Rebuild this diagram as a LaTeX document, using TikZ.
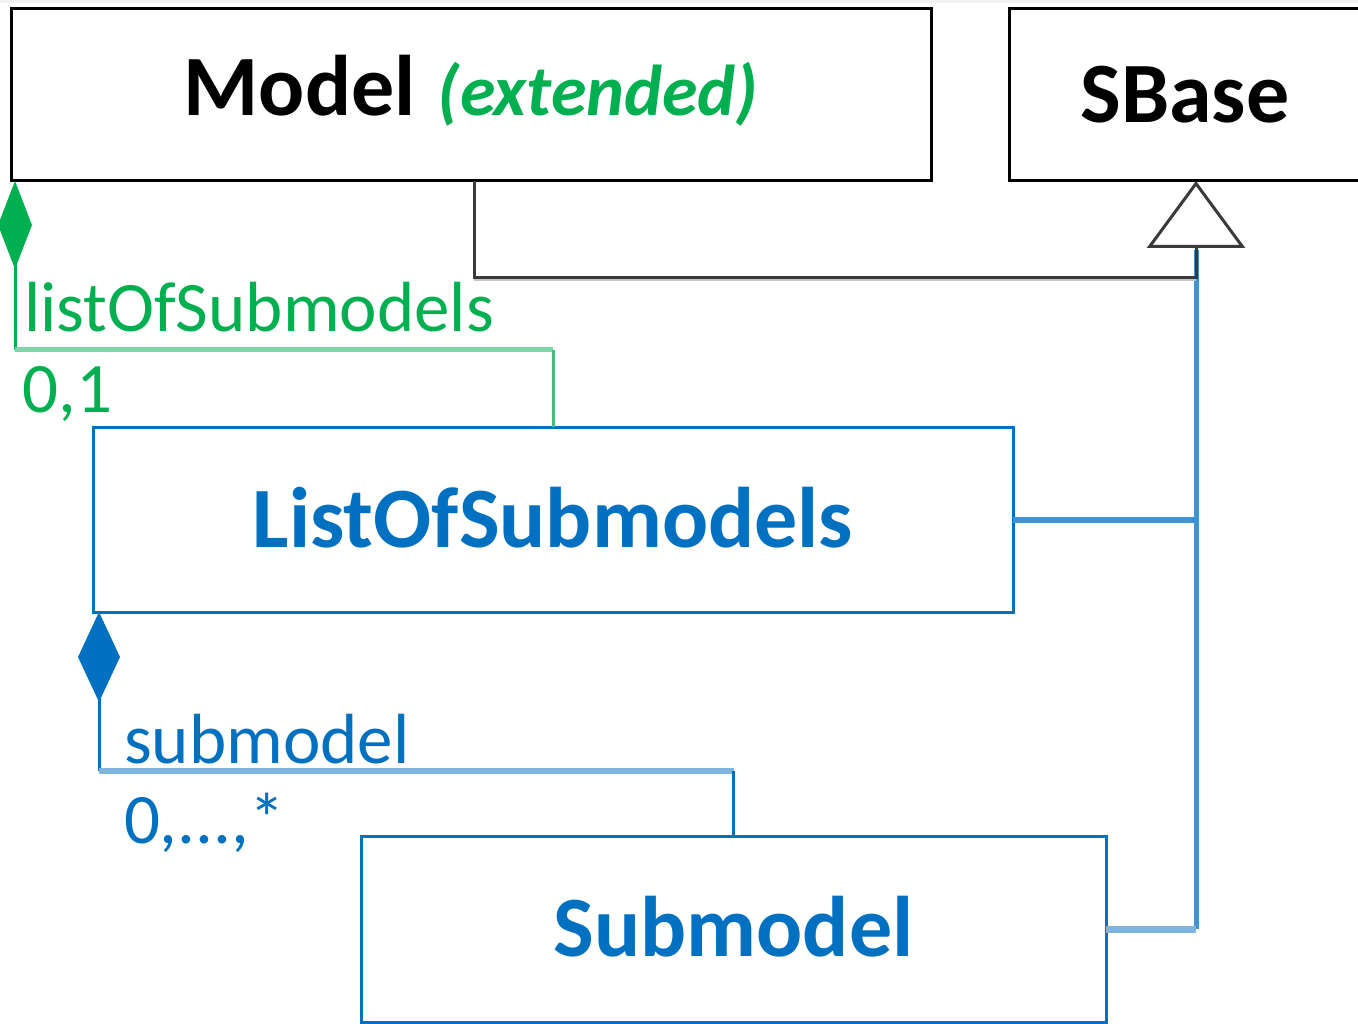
\documentclass[tikz,border=0pt]{standalone}
\usepackage{fontspec}
\setmainfont{Carlito}
\usetikzlibrary{arrows.meta,calc}
\definecolor{umlgreen}{HTML}{00B050}
\definecolor{lightgreen}{HTML}{80D6A8}
\definecolor{midgreen}{HTML}{40C07C}
\definecolor{umlblue}{HTML}{0070C0}
\definecolor{lightblue}{HTML}{7FB4DF}
\definecolor{midblue}{HTML}{4092D2}
\definecolor{darkline}{HTML}{3A3A3A}
\begin{document}
\begin{tikzpicture}[x=1pt,y=-1pt,
  box/.style={draw, line width=3pt, inner sep=0pt, outer sep=0pt, anchor=north west,
    text height=55pt, text depth=0pt, font=\fontsize{86}{90}\selectfont\bfseries},
  blackbox/.style={box, draw=black, text=black},
  bluebox/.style={box, draw=umlblue, text=umlblue},
  lbl/.style={anchor=base west, inner sep=0pt, outer sep=0pt, font=\fontsize{71}{74}\selectfont},
  greenconn/.style={draw=umlgreen, line width=3pt},
  blueconn/.style={draw=umlblue, line width=3pt},
  inheritline/.style={draw=darkline, line width=3pt},
  trunkline/.style={draw=midblue, line width=5pt}
]
\useasboundingbox (0,0) rectangle (1358,1024);
\fill[gray!10] (0,0) rectangle (1358,3);

% boxes
\node[blackbox, minimum width=920pt, minimum height=172pt, text depth=14pt] (model) at (11,9)
  {Model\hspace{22pt}{\fontsize{72}{76}\selectfont\itshape\color{umlgreen}(extended)}};
\node[blackbox, minimum width=352pt, minimum height=172pt] (sbase) at (1009,9) {SBase};
\node[bluebox, minimum width=920pt, minimum height=185pt] (lsm) at (93,427) {ListOfSubmodels};
\node[bluebox, minimum width=745pt, minimum height=186pt] (sub) at (361,836) {Submodel};

% helper coordinates
\coordinate (tb) at ($(sbase.south west)+(187,69)$);
\coordinate (tbot) at (tb |- sub.east);
\coordinate (bj) at ($(sbase.south west)+(187,97)$);
\coordinate (gA) at ($(model.south west)+(4,169)$);
\coordinate (gB) at (gA -| lsm.north);
\coordinate (bA) at ($(lsm.south west)+(6,159)$);
\coordinate (bB) at (bA -| sub.north);

% inheritance trunk (blue)
\draw[trunkline] (tb) -- (tbot);
\draw[draw=midblue, line width=6pt] (lsm.east) -- (lsm.east -| tb);
\draw[draw=lightblue, line width=7pt] (sub.east) -- (tbot);

% inheritance from Model
\draw[draw=gray!45, line width=2pt] ($(model.south west)+(463,99)$) -- ($(bj)+(0,2)$);
\draw[inheritline, -{Triangle[open, length=67pt, width=98pt, fill=white]}]
  ($(model.south west)+(463,0)$) |- (bj) -- ($(sbase.south west)+(187,0)$);

% composition Model -> ListOfSubmodels
\draw[greenconn, {Diamond[length=88pt, width=34pt]}-] ($(model.south west)+(4,0)$) -- (gA);
\draw[draw=lightgreen, line width=5pt] (gA) -- (gB);
\draw[draw=midgreen, line width=3pt] (gB) -- (lsm.north);

% composition ListOfSubmodels -> Submodel
\draw[blueconn, {Diamond[length=90pt, width=42pt]}-] ($(lsm.south west)+(6,0)$) -- (bA);
\draw[draw=lightblue, line width=6pt] (bA) -- (bB);
\draw[blueconn] (bB) -- (sub.north);

% labels
\node[lbl, text=umlgreen] (lblA) at (24,332) {listOfSubmodels};
\node[lbl, text=umlgreen] (lblB) at (23,413) {0,1};
\node[lbl, text=umlblue] (lblC) at (124,763) {submodel};
\node[lbl, text=umlblue] (lblD) at (124,843) {0,...,*};
\end{tikzpicture}
\end{document}
